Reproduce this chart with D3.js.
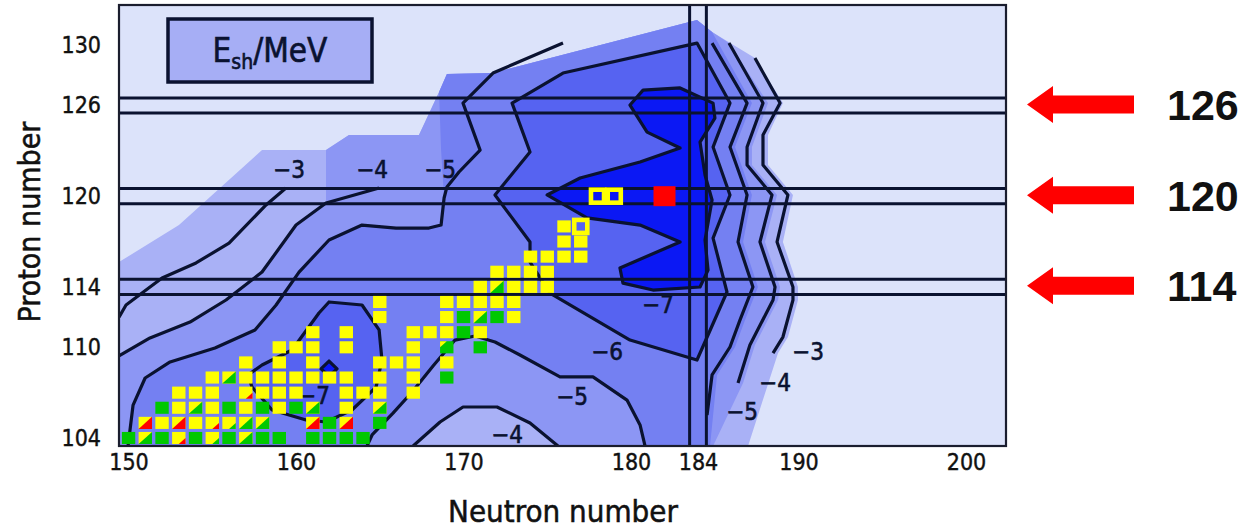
<!DOCTYPE html>
<html>
<head>
<meta charset="utf-8">
<script src="https://cdn.jsdelivr.net/npm/d3@7"></script>
<style>
  body { margin: 0; background: #fff; }
  svg text { font-family: "Liberation Sans Narrow", "DejaVu Sans Condensed", "Roboto", sans-serif; }
</style>
</head>
<body>
<svg id="chart" width="1243" height="529"></svg>
<script>
// axes
const xTicks = [150, 160, 170, 180, 184, 190, 200];
const yTicks = [104, 110, 114, 120, 126, 130];
const magicZ = [114, 120, 126];
const magicN = [184];

// shaded areas of the shell-correction map, points are [N, Z]
const fill3 = [[149.43,115.64],[153.01,118.09],[157.97,123.05],[161.79,123.05],[163.16,124.05],[167.34,124.05],[168.54,126.89],[169.01,128.08],[171.76,128.15],[183.94,131.65],[184.84,130.86],[187.40,129.14],[189.07,126.16],[188.18,124.05],[188.18,122.06],[189.67,120.08],[189.07,116.97],[189.97,113.99],[189.97,113.13],[189.37,110.68],[188.78,109.62],[186.99,103.47],[149.43,103.47]];
const fill4 = [[149.43,109.43],[151.28,110.62],[153.67,111.67],[155.82,113.13],[157.97,114.98],[160.0,118.09],[161.79,119.55],[161.79,123.05],[163.16,124.05],[167.34,124.05],[168.54,126.89],[169.01,128.08],[171.76,128.15],[183.94,131.65],[184.84,130.86],[185.85,130.13],[188.18,126.16],[187.22,123.25],[187.22,122.06],[188.72,120.08],[188.0,116.97],[188.9,113.99],[188.78,113.13],[187.40,110.15],[186.69,107.64],[184.90,103.47],[149.43,103.47]];
const fill5Top = [[168.66,123.05],[168.54,126.89],[169.01,128.08],[171.76,128.15],[183.94,131.65],[184.84,130.86]];
const fill5Right = [[187.22,126.16],[186.21,123.25],[187.22,120.08],[186.69,116.97],[187.58,113.99],[186.81,111.81],[186.21,110.02],[185.14,108.17],[184.72,103.47]];

// contour lines
const line3Left = [[149.43,112.0],[149.85,112.80],[152.0,114.59],[154.03,115.58],[156.0,116.90],[158.21,119.42],[159.40,120.54]];
const line4Left = [[149.43,109.43],[151.28,110.62],[153.67,111.67],[155.82,113.13],[157.97,114.98],[160.0,118.09],[161.79,119.55],[164.96,120.54]];
const line5Left = [[149.97,103.47],[150.27,106.18],[150.99,107.97],[152.48,109.03],[155.16,109.95],[157.55,111.15],[158.81,112.80],[160.18,114.98],[161.97,117.10],[163.94,118.09],[165.97,117.89],[167.94,117.89],[168.66,118.09],[168.84,119.88],[169.01,120.61],[169.73,121.60],[170.99,123.05],[169.97,126.16],[171.76,128.15],[175.94,130.13]];
const line3Right = [[187.40,129.14],[188.90,126.16],[187.88,124.05],[187.88,122.06],[189.37,120.08],[188.72,116.97],[189.67,113.99],[189.67,113.13],[189.07,110.68],[188.48,109.62]];
const line4Right = [[185.85,130.13],[187.88,126.16],[186.93,123.25],[186.93,122.06],[188.42,120.08],[187.70,116.97],[188.60,113.99],[188.48,113.13],[187.10,110.15],[186.39,107.64]];
const line5Right = [[184.84,130.13],[186.93,126.16],[185.91,123.25],[186.93,120.08],[186.39,116.97],[187.28,113.99],[186.51,111.81],[185.91,110.02],[184.84,108.17],[184.54,105.52]];
const arch4 = [[166.99,103.47],[168.60,105.06],[169.97,106.05],[172.0,106.05],[173.97,104.99],[175.64,103.47]];
const arch5 = [[164.24,103.47],[164.54,104.20],[165.79,105.65],[166.93,107.04],[168.18,108.76],[169.49,110.48],[170.69,110.75],[171.88,110.35],[173.37,109.49],[175.76,108.04],[177.73,108.04],[179.76,106.51],[180.54,104.86],[180.84,103.47]];
const loop6 = [[172.90,126.16],[175.94,128.15],[183.94,130.13],[185.91,126.16],[184.90,123.25],[185.91,120.08],[184.90,117.23],[185.73,113.66],[183.94,109.16],[179.94,110.48],[175.16,113.59],[173.97,115.64],[173.97,116.97],[171.88,120.08],[173.97,122.92]];
const blob6 = [[161.97,113.0],[163.94,112.80],[164.96,111.15],[165.13,109.16],[164.78,107.37],[163.34,105.85],[161.79,105.06],[160.60,105.19],[158.57,105.85],[157.37,107.37],[157.13,108.17],[157.97,108.83],[159.76,109.82],[161.37,112.27]];
const blob7 = [[179.94,126.03],[180.72,127.02],[182.93,127.16],[184.90,126.16],[185.01,125.17],[184.12,123.58],[184.42,121.40],[184.84,119.75],[184.42,117.10],[184.60,115.11],[184.12,113.99],[181.31,113.79],[179.52,114.25],[179.34,115.25],[182.93,116.97],[180.54,118.09],[177.37,118.56],[174.99,120.08],[176.96,121.20],[180.54,122.26],[182.93,123.19],[180.96,124.24]];
const diamond7 = [[161.97,109.09],[162.45,108.57],[161.97,108.10],[161.49,108.57]];

const contourLabels = [
  [159.58,121.73,'−3'],[164.54,121.73,'−4'],[168.60,121.73,'−5'],
  [190.57,109.69,'−3'],[188.60,107.64,'−4'],[186.63,105.72,'−5'],
  [172.60,104.20,'−4'],[176.48,106.71,'−5'],[178.57,109.69,'−6'],[181.61,112.80,'−7'],[161.07,106.78,'−7']
];

// known nuclei [N, Z, kind]
const nuclides = [
  [150,104,'G'],[151,104,'YG'],[152,104,'G'],[153,104,'Yr'],[154,104,'G'],[155,104,'Yg'],[156,104,'G'],[157,104,'YG'],[158,104,'G'],[159,104,'G'],[161,104,'G'],[162,104,'G'],[163,104,'G'],[164,104,'G'],
  [151,105,'YR'],[152,105,'Y'],[153,105,'YR'],[154,105,'Y'],[155,105,'Yr'],[156,105,'Yg'],[157,105,'YG'],[158,105,'YG'],[161,105,'YR'],[162,105,'G'],[163,105,'YR'],[165,105,'G'],
  [152,106,'G'],[153,106,'Y'],[154,106,'YG'],[155,106,'Y'],[156,106,'G'],[157,106,'Y'],[158,106,'G'],[159,106,'Y'],[160,106,'G'],[161,106,'YG'],[163,106,'Y'],[165,106,'YG'],
  [153,107,'Y'],[154,107,'Y'],[155,107,'Y'],[157,107,'Yr'],[158,107,'Y'],[159,107,'Y'],[160,107,'Y'],[163,107,'Y'],[164,107,'Y'],[165,107,'Y'],[167,107,'Y'],
  [155,108,'Y'],[156,108,'YG'],[157,108,'Y'],[158,108,'Y'],[159,108,'Y'],[160,108,'Y'],[161,108,'Y'],[162,108,'Y'],[163,108,'Y'],[165,108,'Y'],[167,108,'Y'],[169,108,'G'],
  [157,109,'Y'],[159,109,'Y'],[161,109,'Y'],[165,109,'Y'],[166,109,'Y'],[167,109,'Y'],[169,109,'Y'],
  [159,110,'Y'],[160,110,'Y'],[161,110,'Y'],[163,110,'Y'],[167,110,'Y'],[169,110,'Gy'],[171,110,'G'],
  [161,111,'Y'],[163,111,'Y'],[167,111,'Y'],[168,111,'Y'],[169,111,'Y'],[170,111,'G'],[171,111,'Y'],
  [165,112,'Y'],[169,112,'Y'],[170,112,'G'],[171,112,'YG'],[172,112,'G'],[173,112,'Y'],
  [165,113,'Y'],[169,113,'Y'],[170,113,'Y'],[171,113,'Y'],[172,113,'Y'],[173,113,'Y'],
  [171,114,'Y'],[172,114,'YG'],[173,114,'Y'],[174,114,'Y'],[175,114,'Y'],
  [172,115,'Y'],[173,115,'Y'],[174,115,'Y'],[175,115,'Y'],
  [174,116,'Y'],[175,116,'Y'],[176,116,'Y'],[177,116,'Y'],
  [176,117,'Y'],[177,117,'Y'],
  [176,118,'Y']
];
const newNuclei = [[177,118],[178,120],[179,120]];
const target = [[182,120]];

const colors = {
  bg: '#dce3fa', f3: '#a9b1f6', f4: '#8c96f4', f5: '#7480f2', f6: '#5663f1', f7: '#0b18f4',
  ink: '#0a1230', yellow: '#ffff00', green: '#00c800', red: '#ff0000'
};
const kinds = {
  Y: { base: colors.yellow },
  G: { base: colors.green },
  YG: { base: colors.yellow, corner: colors.green, f: 1, at: 'lr' },
  YR: { base: colors.yellow, corner: colors.red, f: 1, at: 'lr' },
  Yr: { base: colors.yellow, corner: colors.red, f: 0.5, at: 'lr' },
  Yg: { base: colors.yellow, corner: colors.green, f: 0.5, at: 'lr' },
  Gy: { base: colors.green, corner: colors.yellow, f: 0.5, at: 'ul' }
};

const svg = d3.select('#chart');
const x = d3.scaleLinear().domain([149.43, 202.39]).range([119, 1006]);
const y = d3.scaleLinear().domain([103.47, 132.65]).range([446, 5]);
const cellW = x(151) - x(150);
const cellH = y(104) - y(105);

svg.append('defs').append('clipPath').attr('id', 'plot')
  .append('rect').attr('x', 119).attr('y', 5).attr('width', 887).attr('height', 441);

const plot = svg.append('g').attr('clip-path', 'url(#plot)');
plot.append('rect').attr('x', 119).attr('y', 5).attr('width', 887).attr('height', 441).attr('fill', colors.bg);

const line = d3.line().x((d) => x(d[0])).y((d) => y(d[1]));
const area = (pts) => line(pts) + 'Z';

const fill5 = [...line5Left.slice(0, 14), ...fill5Top, ...fill5Right, ...arch5.slice().reverse()];
const shapes = [
  [fill3, colors.f3], [fill4, colors.f4], [fill5, colors.f5],
  [arch5, colors.f4], [arch4, colors.f3],
  [loop6, colors.f6], [blob6, colors.f6], [blob7, colors.f7], [diamond7, colors.f7]
];
plot.append('g').selectAll('path').data(shapes).join('path')
  .attr('d', (d) => area(d[0]))
  .attr('fill', (d) => d[1]);

// contour lines
const openLines = [line3Left, line4Left, line5Left, line3Right, line4Right, line5Right, arch4, arch5];
const closedLines = [loop6, blob6, blob7, diamond7];
const lines = plot.append('g').attr('fill', 'none').attr('stroke', colors.ink)
  .attr('stroke-width', 3.2).attr('stroke-linejoin', 'round');
lines.selectAll('path.open').data(openLines).join('path').attr('class', 'open').attr('d', line);
lines.selectAll('path.closed').data(closedLines).join('path').attr('class', 'closed').attr('d', area);

plot.append('g').selectAll('text').data(contourLabels).join('text')
  .attr('x', (d) => x(d[0])).attr('y', (d) => y(d[1]))
  .attr('dy', '0.35em').attr('text-anchor', 'middle')
  .attr('font-size', 24).attr('fill', colors.ink)
  .attr('stroke', colors.ink).attr('stroke-width', 0.6)
  .text((d) => d[2]);

// magic number lines
const magic = plot.append('g').attr('stroke', colors.ink).attr('stroke-width', 3);
magicZ.forEach((z) => {
  [z - 0.5, z + 0.5].forEach((v) => {
    magic.append('line').attr('x1', 119).attr('x2', 1006).attr('y1', y(v)).attr('y2', y(v));
  });
});
magicN.forEach((n) => {
  [n - 0.5, n + 0.5].forEach((v) => {
    magic.append('line').attr('x1', x(v)).attr('x2', x(v)).attr('y1', 5).attr('y2', 446);
  });
});

// nuclei squares
const sw = cellW * 0.8;
const sh = cellH * 0.8;
const sq = plot.append('g');
nuclides.forEach(([n, z, k]) => {
  const kind = kinds[k];
  const x0 = x(n) - sw / 2;
  const y0 = y(z) - sh / 2;
  sq.append('rect').attr('x', x0).attr('y', y0).attr('width', sw).attr('height', sh).attr('fill', kind.base);
  if (kind.corner) {
    const f = kind.f;
    const pts = kind.at === 'lr'
      ? [[x0 + sw, y0 + sh - f * sh], [x0 + sw, y0 + sh], [x0 + sw - f * sw, y0 + sh]]
      : [[x0, y0], [x0 + f * sw, y0], [x0, y0 + f * sh]];
    sq.append('path').attr('d', 'M' + pts.join('L') + 'Z').attr('fill', kind.corner);
  }
});
sq.selectAll('rect.new').data(newNuclei).join('rect').attr('class', 'new')
  .attr('x', (d) => x(d[0]) - cellW * 0.39).attr('y', (d) => y(d[1]) - cellH * 0.43)
  .attr('width', cellW * 0.78).attr('height', cellH * 0.86)
  .attr('fill', 'none').attr('stroke', colors.yellow).attr('stroke-width', 4.6);
sq.selectAll('rect.target').data(target).join('rect').attr('class', 'target')
  .attr('x', (d) => x(d[0]) - 11).attr('y', (d) => y(d[1]) - 10)
  .attr('width', 22).attr('height', 20).attr('fill', colors.red);

// frame
svg.append('rect').attr('x', 119).attr('y', 5).attr('width', 887).attr('height', 441)
  .attr('fill', 'none').attr('stroke', '#1a1d2e').attr('stroke-width', 2.2);

// legend box
svg.append('rect').attr('x', 168).attr('y', 19).attr('width', 204).attr('height', 63)
  .attr('fill', '#a6aef5').attr('stroke', colors.ink).attr('stroke-width', 3.5);
const leg = svg.append('text').attr('x', 270).attr('y', 62).attr('text-anchor', 'middle')
  .attr('font-size', 33).attr('fill', colors.ink)
  .attr('stroke', colors.ink).attr('stroke-width', 0.6);
leg.append('tspan').text('E');
leg.append('tspan').attr('dy', 7).attr('font-size', 21).text('sh');
leg.append('tspan').attr('dy', -7).text('/MeV');

// axes
const xAxis = svg.append('g').attr('transform', 'translate(0,446)')
  .call(d3.axisBottom(x).tickValues(xTicks).tickSize(0).tickPadding(8));
const yAxis = svg.append('g').attr('transform', 'translate(119,0)')
  .call(d3.axisLeft(y).tickValues(yTicks).tickSize(0).tickPadding(18));
[xAxis, yAxis].forEach((g) => {
  g.select('.domain').remove();
  g.selectAll('text').attr('font-size', 23).attr('fill', '#111')
    .attr('stroke', '#111').attr('stroke-width', 0.4)
    .style('font-family', '"Liberation Sans Narrow", "DejaVu Sans Condensed", sans-serif');
});

svg.append('text').attr('x', 563).attr('y', 522).attr('text-anchor', 'middle')
  .attr('font-size', 31).attr('fill', '#111').attr('stroke', '#111').attr('stroke-width', 0.5)
  .text('Neutron number');
svg.append('text').attr('transform', 'translate(40,222) rotate(-90)').attr('text-anchor', 'middle')
  .attr('font-size', 30).attr('fill', '#111').attr('stroke', '#111').attr('stroke-width', 0.5)
  .text('Proton number');

// red arrows at magic proton numbers
const arrows = svg.append('g');
magicZ.forEach((z) => {
  const cy = y(z) - 1;
  arrows.append('path')
    .attr('d', `M1027,${cy}L1053,${cy - 18.5}L1053,${cy - 9}L1134,${cy - 9}L1134,${cy + 9}L1053,${cy + 9}L1053,${cy + 18.5}Z`)
    .attr('fill', colors.red);
  arrows.append('text').attr('x', 1167).attr('y', cy).attr('dy', '0.36em')
    .attr('font-size', 43).attr('font-weight', 'bold').attr('fill', '#111')
    .style('font-family', '"Liberation Sans", Arial, sans-serif')
    .text(z);
});
</script>
</body>
</html>
